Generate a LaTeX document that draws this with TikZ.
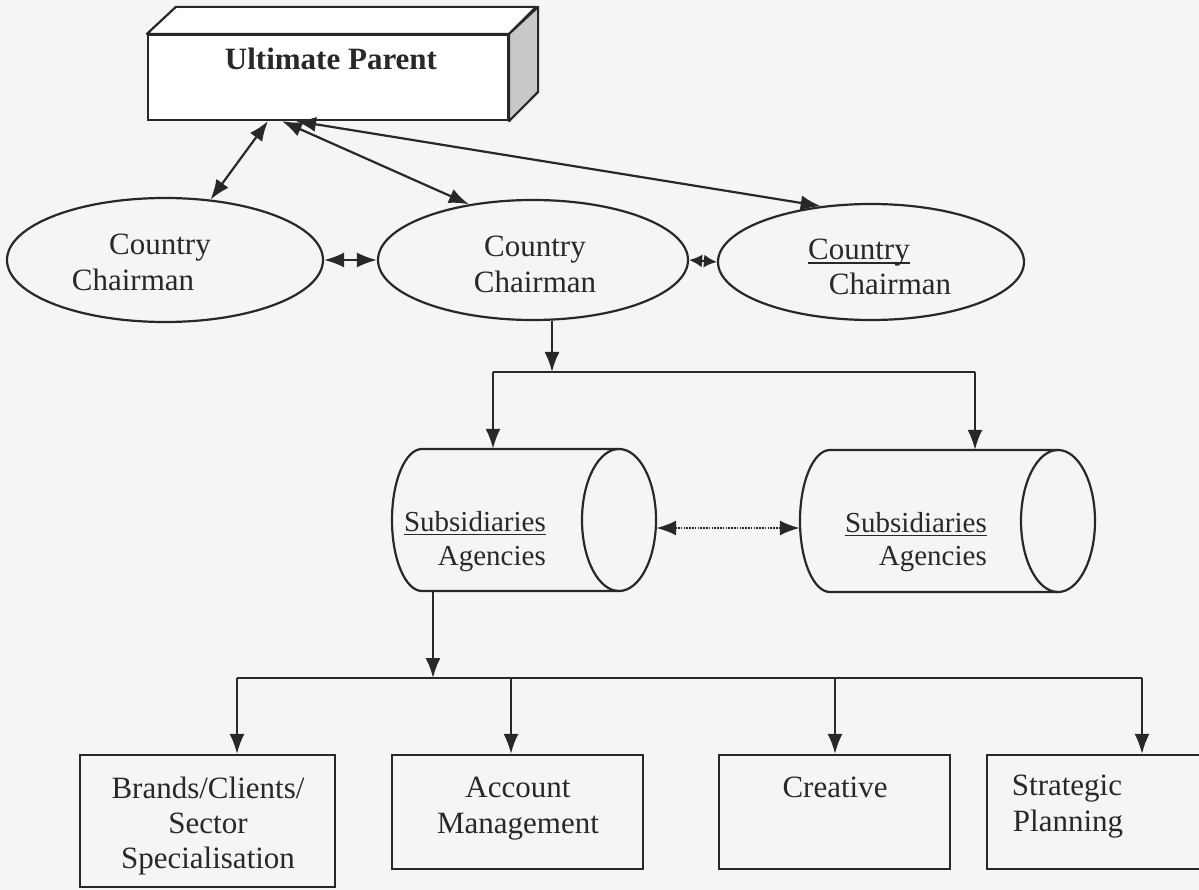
\documentclass[tikz,border=0pt]{standalone}
\usepackage{fontspec}
\setmainfont{Liberation Serif}
\usetikzlibrary{arrows.meta,shapes.geometric,calc}
\definecolor{ink}{RGB}{40,40,40}
\definecolor{paper}{RGB}{245,245,245}
\definecolor{sideface}{RGB}{200,200,200}
% underline drawn as a rule of fixed weight
\newcommand\ulword[1]{\setbox0\hbox{#1}\rlap{\rule[-4pt]{\wd0}{1.5pt}}\box0}
\tikzset{
  line/.style={draw=ink, line width=2.2pt},
  tip/.tip={Latex[length=20pt,width=15pt]},
  smalltip/.tip={Latex[length=13pt,width=13pt]},
  arr/.style={line, -tip},
  darr/.style={line, tip-tip},
  oval/.style={ellipse, draw=ink, line width=2.2pt, inner sep=0pt},
  unitbox/.style={rectangle, draw=ink, line width=2.2pt, inner sep=0pt},
  lbl/.style={text=ink, font=\fontsize{31}{36}\selectfont, inner sep=0pt, anchor=base},
  cyllbl/.style={lbl, font=\fontsize{29}{34}\selectfont, anchor=base east},
}
\begin{document}
\begin{tikzpicture}[x=1pt,y=-1pt]
\useasboundingbox (0,0) rectangle (1199,890);
\clip (0,0) rectangle (1199,890);
\fill[paper] (0,0) rectangle (1199,890);

% --- ultimate parent: a box seen in perspective
\node[unitbox, minimum width=360pt, minimum height=85pt, fill=white] (parent) at (328,77.5) {};
\draw[line, fill=white, line join=round] (parent.north west) -- ++(29,-27) -- ++(360,0) -- (parent.north east) -- cycle;
\draw[line, fill=sideface, line join=round] (parent.north east) -- ++(29,-27) -- ++(0,85) -- (parent.south east) -- cycle;
\node[lbl, font=\fontsize{31}{36}\selectfont\bfseries] (ptext) at (331,70) {Ultimate Parent};

% --- country chairmen
\node[oval, minimum width=316pt, minimum height=124pt] (e1) at (165,260) {};
\node[oval, minimum width=310pt, minimum height=120pt] (e2) at (533,260) {};
\node[oval, minimum width=306pt, minimum height=116pt] (e3) at (871,262) {};
\node[lbl] (e1a) at (160,255) {Country};
\node[lbl] (e1b) at (133,291) {Chairman};
\node[lbl] (e2a) at (535,257) {Country};
\node[lbl] (e2b) at (535,293) {Chairman};
\node[lbl] (e3a) at (859,260) {\ulword{Country}};
\node[lbl] (e3b) at (890,295) {Chairman};

\draw[darr] ($(parent.south)+(-60,0)$) -- (e1.53);
\draw[darr] ($(parent.south)+(-46,0)$) -- (e2.139);
\draw[darr] ($(parent.south)+(-32,0)$) -- (e3.132);
\draw[darr] (e1.east) -- (e2.west);
\draw[line, smalltip-smalltip] (e2.east) -- (e3.west);

% --- subsidiaries (horizontal cylinders)
\node[minimum width=264pt, minimum height=142pt, inner sep=0pt] (c1) at (524,520) {};
\draw[line] (619,449) -- (422,449) arc[start angle=90, end angle=270, x radius=30pt, y radius=71pt] -- (619,591);
\draw[line] (619,520) ellipse[x radius=37pt, y radius=71pt];
\node[minimum width=295pt, minimum height=142pt, inner sep=0pt] (c2) at (947.5,521) {};
\draw[line] (1058,450) -- (830,450) arc[start angle=90, end angle=270, x radius=30pt, y radius=71pt] -- (1058,592);
\draw[line] (1058,521) ellipse[x radius=37pt, y radius=71pt];
\node[cyllbl] (c1a) at (546,531) {\ulword{Subsidiaries}};
\node[cyllbl] (c1b) at (546,565) {Agencies};
\node[cyllbl] (c2a) at (987,532) {\ulword{Subsidiaries}};
\node[cyllbl] (c2b) at (987,565) {Agencies};

\coordinate (j1) at (552,372);
\draw[arr] (e2.south -| j1) -- (j1);
\draw[line] (493,372) -- (975,372);
\draw[arr] (493,372) -- (c1.north -| 493,0);
\draw[arr] (975,372) -- (c2.north -| 975,0);
\draw[line, dash pattern=on 1.6pt off 1.2pt, tip-tip]
  ($(c1.east)+(0,8)$) -- ($(c2.west)+(0,7)$);

% --- functional units
\node[unitbox, minimum width=255pt, minimum height=132pt] (b1) at (207.5,821) {};
\node[unitbox, minimum width=251pt, minimum height=114pt] (b2) at (517.5,812) {};
\node[unitbox, minimum width=231pt, minimum height=114pt] (b3) at (834.5,812) {};
\node[unitbox, minimum width=240pt, minimum height=114pt] (b4) at (1107,812) {};
\node[lbl] (b1a) at (208,798) {Brands/Clients/};
\node[lbl] (b1b) at (208,833) {Sector};
\node[lbl] (b1c) at (208,868) {Specialisation};
\node[lbl] (b2a) at (518,797) {Account};
\node[lbl] (b2b) at (518,833) {Management};
\node[lbl] (b3a) at (835,797) {Creative};
\node[lbl] (b4a) at (1067,795) {Strategic};
\node[lbl] (b4b) at (1068,831) {Planning};

\coordinate (j2) at (433,678);
\draw[arr] (c1.south -| j2) -- (j2);
\draw[line] (237,678) -- (1142,678);
\draw[arr] (237,678) -- (b1.north -| 237,0);
\draw[arr] (511,678) -- (b2.north -| 511,0);
\draw[arr] (835,678) -- (b3.north -| 835,0);
\draw[arr] (1142,678) -- (b4.north -| 1142,0);
\end{tikzpicture}
\end{document}
